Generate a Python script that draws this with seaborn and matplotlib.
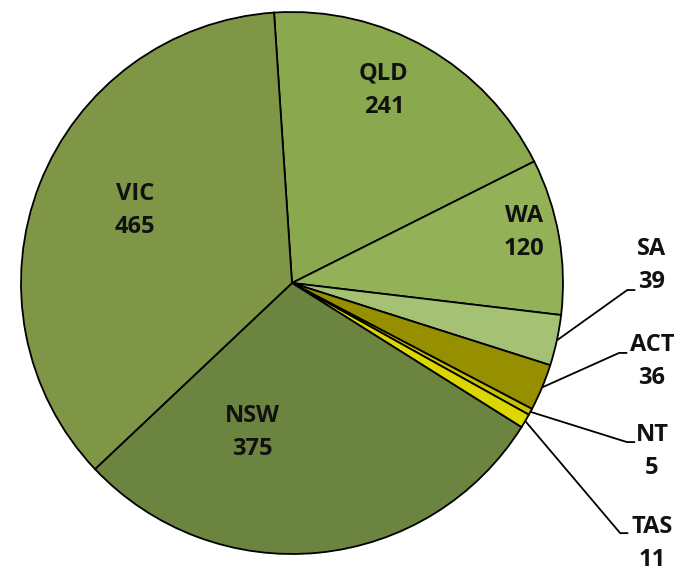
import matplotlib
matplotlib.use("Agg")
import matplotlib.pyplot as plt
import numpy as np
import seaborn as sns

# State totals, in drawing order (clockwise from the top)
states = ["QLD", "WA", "SA", "ACT", "NT", "TAS", "NSW", "VIC"]
counts = [241, 120, 39, 36, 5, 11, 375, 465]
colors = ["#8aa84e", "#93b257", "#a5c274", "#968f00", "#c9c400", "#dcd700", "#6b8440", "#7f9646"]

# Label block centres (pie radius = 1)
label_pos = {
    "QLD": (0.339, 0.712), "WA": (0.856, 0.185), "NSW": (-0.148, -0.550), "VIC": (-0.579, 0.269),
    "SA": (1.328, 0.063), "ACT": (1.328, -0.288), "NT": (1.328, -0.620), "TAS": (1.328, -0.963),
}
# Leader-line elbows for the small slices labelled outside
elbows = {"SA": (1.237, -0.026), "ACT": (1.207, -0.258), "NT": (1.236, -0.587), "TAS": (1.211, -0.923)}

sns.set_theme(style="white")
plt.rcParams["font.family"] = ["Open Sans", "DejaVu Sans"]

fig = plt.figure(figsize=(6.89, 5.72), dpi=100)
ax = fig.add_axes([0, 0, 1, 1])

start = 93.8
wedges, _ = ax.pie(
    counts,
    colors=colors,
    startangle=start,
    counterclock=False,
    radius=1.0,
    wedgeprops=dict(edgecolor="black", linewidth=1.3),
)

total = sum(counts)
angle = start
for name, val in zip(states, counts):
    span = val / total * 360
    mid = np.deg2rad(angle - span / 2)
    angle -= span
    if name in elbows:
        x0, y0 = np.cos(mid), np.sin(mid)
        ex, ey = elbows[name]
        ax.plot([x0, ex, ex + 0.03], [y0, ey, ey], color="black", lw=1.3,
                solid_capstyle="butt")
    tx, ty = label_pos[name]
    ax.text(tx, ty, f"{name}\n{val}", ha="center", va="center", fontsize=17,
            fontweight="bold", linespacing=1.5, color="#111111")

ax.set_xlim(-292 / 271, (689 - 292) / 271)
ax.set_ylim((283 - 572) / 271, 283 / 271)
ax.set_aspect("equal")
ax.axis("off")

fig.savefig("out.png", dpi=100, facecolor="white")
